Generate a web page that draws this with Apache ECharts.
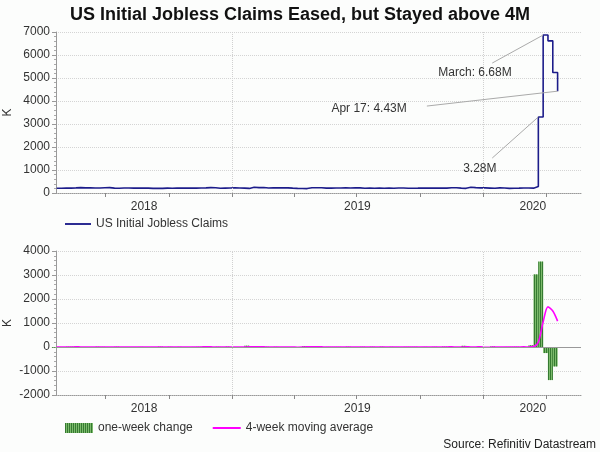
<!DOCTYPE html>
<html><head><meta charset="utf-8">
<script src="https://cdn.jsdelivr.net/npm/echarts@6/dist/echarts.min.js"></script>
<style>html,body{margin:0;padding:0;background:#fcfdfc}#c{width:600px;height:452px}</style>
</head><body><div id="c"></div>
<script>
// Weekly data, week ending Saturday, first week:
const firstWeek = '2018-04-21';
// US initial jobless claims, thousands
const claims = [
  209,211,211,222,234,221,222,218,218,228,232,214,207,217,218,213,212,210,213,203,204,201,214,207,214,210,215,214,214,216,224,234,231,206,214,216,231,
  216,213,199,253,234,239,216,225,223,229,221,211,202,196,192,230,230,228,212,211,215,218,222,216,227,221,209,216,206,215,209,220,209,215,217,204,208,213,219,210,214,212,218,211,225,227,213,203,252,234,222,222,
  214,204,223,216,202,205,211,219,216,211,282,3307,6867,6615,5237,4427
];
// One-week change, thousands
const weeklyChange = [
  -24,2,0,11,12,-13,1,-4,0,10,4,-18,-7,10,1,-5,-1,-2,3,-10,1,-3,13,-7,7,-4,5,-1,0,2,8,10,-3,-25,8,2,15,
  -15,-3,-14,54,-19,5,-23,9,-2,6,-8,-10,-9,-6,-4,38,0,-2,-16,-1,4,3,4,-6,11,-6,-12,7,-10,9,-6,11,-11,6,2,-13,4,5,6,-9,4,-2,6,-7,14,2,-14,-10,49,-18,-12,0,
  -8,-10,19,-7,-14,3,6,8,-3,-5,71,3025,3560,-252,-1378,-810
];
// 4-week moving average, thousands
const movingAvg = [
  -5,-6,-6,-3,6,3,3,-1,-4,2,3,-1,-3,-3,-4,0,1,-2,-1,-3,-2,-2,0,1,3,2,0,2,0,2,2,5,4,-3,-3,-5,0,
  3,0,-4,6,5,7,4,-7,-3,-3,1,-4,-5,-8,-7,5,7,8,5,-5,-4,-3,3,1,3,1,-3,0,-5,-2,0,1,1,0,2,-4,0,-1,1,2,2,0,0,0,3,4,-1,-2,7,2,2,5,
  -10,-8,0,-2,-3,0,-3,1,4,2,18,200,1050,1670,1500,1080
];
const yearLabels = ['2018','2019','2020'];
const yearLabelDates = ['2018-08-26','2019-07-02','2020-03-13'];
const quarterTicks = ['2018-07-01','2018-10-01','2019-01-01','2019-04-01','2019-07-01','2019-10-01','2020-01-01','2020-04-01'];
const yearBoundaries = ['2019-01-01','2020-01-01'];
const axisRange = ['2018-04-20','2020-05-22'];
const topTicks = [0, 7000, 1000];
const bottomTicks = [-2000, 4000, 1000];
const annotations = [
  {text:'March: 6.68M', week:'2020-03-28', from:['2020-01-14',5650], at:['2019-12-20',5220]},
  {text:'Apr 17: 4.43M', week:'2020-04-18', from:['2019-10-11',3780], at:['2019-07-19',3650]},
  {text:'3.28M', week:'2020-03-21', from:['2020-01-14',1520], at:['2019-12-27',1045]}
];

const DAY = 86400000;
const ts = s => Date.parse(s + 'T00:00:00Z');
const t0 = ts(firstWeek);
const weeks = claims.map((_, i) => t0 + i * 7 * DAY);
const weekIndex = s => weeks.indexOf(ts(s));

const font = 'Liberation Sans, Arial, sans-serif';
const txt = '#333';

function xAxis(gi) {
  return {
    type: 'value', gridIndex: gi, min: ts(axisRange[0]), max: ts(axisRange[1]),
    axisLine: {show: true, onZero: false, lineStyle: {color: '#999', type: 'dotted'}},
    axisTick: {show: true, customValues: quarterTicks.map(ts), length: 4, lineStyle: {color: '#888'}},
    axisLabel: {customValues: yearLabelDates.map(ts), color: txt, fontSize: 12, fontFamily: font, margin: 8,
      formatter: v => yearLabels[yearLabelDates.map(ts).indexOf(v)] || String(new Date(v).getUTCFullYear())},
    splitLine: {show: false}
  };
}
function yAxis(gi, r) {
  return {
    type: 'value', gridIndex: gi, min: r[0], max: r[1], interval: r[2],
    name: 'K', nameLocation: 'middle', nameGap: 42, nameRotate: 90, nameMoveOverlap: false,
    nameTextStyle: {color: txt, fontSize: 12, fontFamily: font},
    axisLine: {show: true, onZero: false, lineStyle: {color: '#999'}},
    axisTick: {show: true, length: 4, lineStyle: {color: '#999'}},
    minorTick: {show: true, splitNumber: 5, length: 2, lineStyle: {color: '#aaa'}},
    axisLabel: {color: txt, fontSize: 12, fontFamily: font, margin: 6, formatter: v => String(v)},
    splitLine: {show: true, lineStyle: {color: '#d4d4d4', type: 'dotted'}}
  };
}
const yearLines = yearBoundaries.map(s => ({xAxis: ts(s), lineStyle: {color: '#d0d0d0', type: 'dotted', width: 1}, label: {show: false}}));

const annLines = annotations.map(a => {
  const i = weekIndex(a.week);
  return [{coord: [ts(a.from[0]), a.from[1]], lineStyle: {color: '#aaa', width: 1, type: 'solid'}}, {coord: [weeks[i], claims[i]]}];
});
const annPoints = annotations.map(a => ({
  coord: [ts(a.at[0]), a.at[1]], value: a.text,
  label: {show: true, formatter: a.text, position: 'inside', color: txt, fontSize: 12, fontFamily: font}
}));

const lineIcon = 'path://M0,0H28V2H0Z';

const chart = echarts.init(document.getElementById('c'), null, {renderer: 'canvas'});
chart.setOption({
  backgroundColor: '#fcfdfc',
  animation: false,
  title: [
    {text: 'US Initial Jobless Claims Eased, but Stayed above 4M', left: 'center', top: 1,
     textStyle: {fontSize: 18, fontWeight: 'bold', fontFamily: font, color: '#111'}},
    {text: 'Source: Refinitiv Datastream', right: 4, top: 439, padding: 0,
     textStyle: {fontSize: 12, fontWeight: 'normal', fontFamily: font, color: '#222'}}
  ],
  legend: [
    {data: [{name: 'US Initial Jobless Claims', icon: lineIcon}], left: 60, top: 213, itemWidth: 26, itemHeight: 10, itemGap: 20,
     textStyle: {color: txt, fontSize: 12, fontFamily: font}},
    {data: [{name: 'one-week change', icon: 'rect'}, {name: '4-week moving average', icon: lineIcon}], left: 60, top: 417, itemWidth: 28, itemHeight: 10, itemGap: 20,
     textStyle: {color: txt, fontSize: 12, fontFamily: font}}
  ],
  grid: [
    {left: 56, right: 19, top: 32, height: 161, outerBoundsMode: 'none', containLabel: false},
    {left: 56, right: 19, top: 251, height: 144, outerBoundsMode: 'none', containLabel: false}
  ],
  xAxis: [xAxis(0), xAxis(1)],
  yAxis: [yAxis(0, topTicks), yAxis(1, bottomTicks)],
  series: [
    {
      name: 'US Initial Jobless Claims', type: 'line', xAxisIndex: 0, yAxisIndex: 0,
      data: weeks.map((t, i) => [t, claims[i]]), step: 'end', symbol: 'none',
      lineStyle: {color: '#1c1c8a', width: 1.6}, itemStyle: {color: '#1c1c8a'},
      markLine: {silent: true, symbol: 'none', label: {show: false}, data: yearLines.concat(annLines)},
      markPoint: {silent: true, symbol: 'circle', symbolSize: 1, itemStyle: {color: 'rgba(0,0,0,0)'}, data: annPoints}
    },
    {
      name: 'one-week change', type: 'bar', xAxisIndex: 1, yAxisIndex: 1,
      data: weeks.map((t, i) => [t - 3.5 * DAY, weeklyChange[i]]), barWidth: 5,
      itemStyle: {color: '#7dbb6c', decal: {symbol: 'rect', symbolSize: 1, dashArrayX: [1, 1], dashArrayY: [10, 0], color: 'rgba(30,100,30,0.75)'}},
      markLine: {silent: true, symbol: 'none', label: {show: false},
        data: yearLines.concat([{yAxis: 0, lineStyle: {color: '#999', type: 'solid', width: 1}}])}
    },
    {
      name: '4-week moving average', type: 'line', xAxisIndex: 1, yAxisIndex: 1,
      data: weeks.map((t, i) => [t, movingAvg[i]]), symbol: 'none', smooth: 0.3,
      lineStyle: {color: '#ff00ff', width: 1.6}, itemStyle: {color: '#ff00ff'}
    }
  ]
});
</script></body></html>
